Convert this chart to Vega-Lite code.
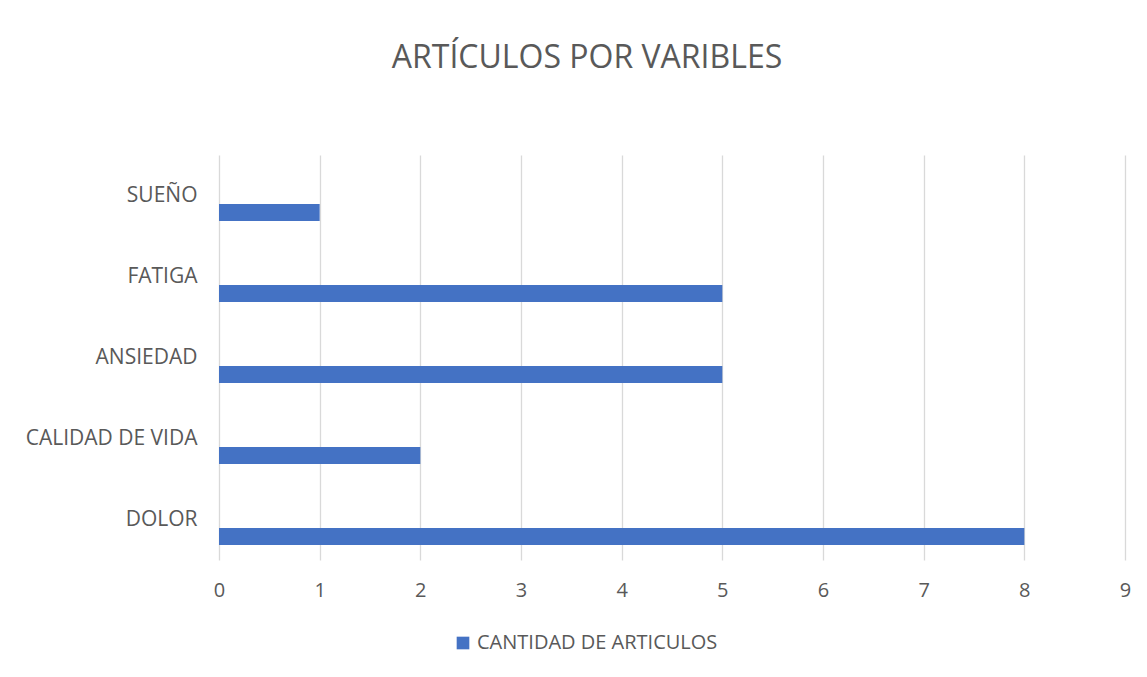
{
  "$schema": "https://vega.github.io/schema/vega-lite/v6.json",
  "autosize": {"type": "none"},
  "width": 906,
  "height": 405,
  "padding": {"left": 219, "top": 155, "right": 22, "bottom": 117},
  "background": "white",
  "config": {
    "view": {"stroke": null},
    "font": "Open Sans",
    "axis": {"labelColor": "#595959", "labelFont": "Open Sans", "domain": false, "ticks": false}
  },
  "title": {
    "text": "ARTÍCULOS POR VARIBLES",
    "fontSize": 32,
    "font": "Open Sans",
    "fontWeight": "normal",
    "color": "#595959",
    "anchor": "middle",
    "dx": -85,
    "offset": 80
  },
  "data": {
    "values": [
      {"variable": "SUEÑO", "serie": "CANTIDAD DE ARTICULOS", "valor": 1},
      {"variable": "FATIGA", "serie": "CANTIDAD DE ARTICULOS", "valor": 5},
      {"variable": "ANSIEDAD", "serie": "CANTIDAD DE ARTICULOS", "valor": 5},
      {"variable": "CALIDAD DE VIDA", "serie": "CANTIDAD DE ARTICULOS", "valor": 2},
      {"variable": "DOLOR", "serie": "CANTIDAD DE ARTICULOS", "valor": 8},
      {"variable": "SUEÑO", "serie": "Serie 2", "valor": 0},
      {"variable": "FATIGA", "serie": "Serie 2", "valor": 0},
      {"variable": "ANSIEDAD", "serie": "Serie 2", "valor": 0},
      {"variable": "CALIDAD DE VIDA", "serie": "Serie 2", "valor": 0},
      {"variable": "DOLOR", "serie": "Serie 2", "valor": 0},
      {"variable": "SUEÑO", "serie": "Serie 3", "valor": 0},
      {"variable": "FATIGA", "serie": "Serie 3", "valor": 0},
      {"variable": "ANSIEDAD", "serie": "Serie 3", "valor": 0},
      {"variable": "CALIDAD DE VIDA", "serie": "Serie 3", "valor": 0},
      {"variable": "DOLOR", "serie": "Serie 3", "valor": 0}
    ]
  },
  "mark": {"type": "bar", "strokeWidth": 0},
  "encoding": {
    "y": {
      "field": "variable",
      "type": "nominal",
      "sort": ["SUEÑO", "FATIGA", "ANSIEDAD", "CALIDAD DE VIDA", "DOLOR"],
      "scale": {"paddingInner": 0, "paddingOuter": 0},
      "axis": {"title": null, "labelFontSize": 21, "labelPadding": 22, "grid": false, "labelLimit": 0}
    },
    "yOffset": {
      "field": "serie",
      "type": "nominal",
      "scale": {"domain": ["Serie 3", "Serie 2", "CANTIDAD DE ARTICULOS"], "paddingInner": 0, "paddingOuter": 0.88}
    },
    "x": {
      "field": "valor",
      "type": "quantitative",
      "scale": {"domain": [0, 9], "nice": false},
      "axis": {"title": null, "values": [0,1,2,3,4,5,6,7,8,9], "labelOverlap": false, "labelFlush": false, "labelFontSize": 20, "labelPadding": 20, "grid": true, "gridColor": "#d9d9d9", "gridWidth": 1.3}
    },
    "color": {
      "field": "serie",
      "type": "nominal",
      "scale": {"domain": ["CANTIDAD DE ARTICULOS", "Serie 2", "Serie 3"], "range": ["#4472C4", "#ED7D31", "#A5A5A5"]},
      "legend": {
        "title": null,
        "values": ["CANTIDAD DE ARTICULOS"],
        "orient": "none",
        "legendX": 234,
        "legendY": 478,
        "symbolType": "square",
        "symbolSize": 160,
        "labelFontSize": 20,
        "labelLimit": 0,
        "labelColor": "#595959",
        "labelFont": "Open Sans"
      }
    }
  }
}
